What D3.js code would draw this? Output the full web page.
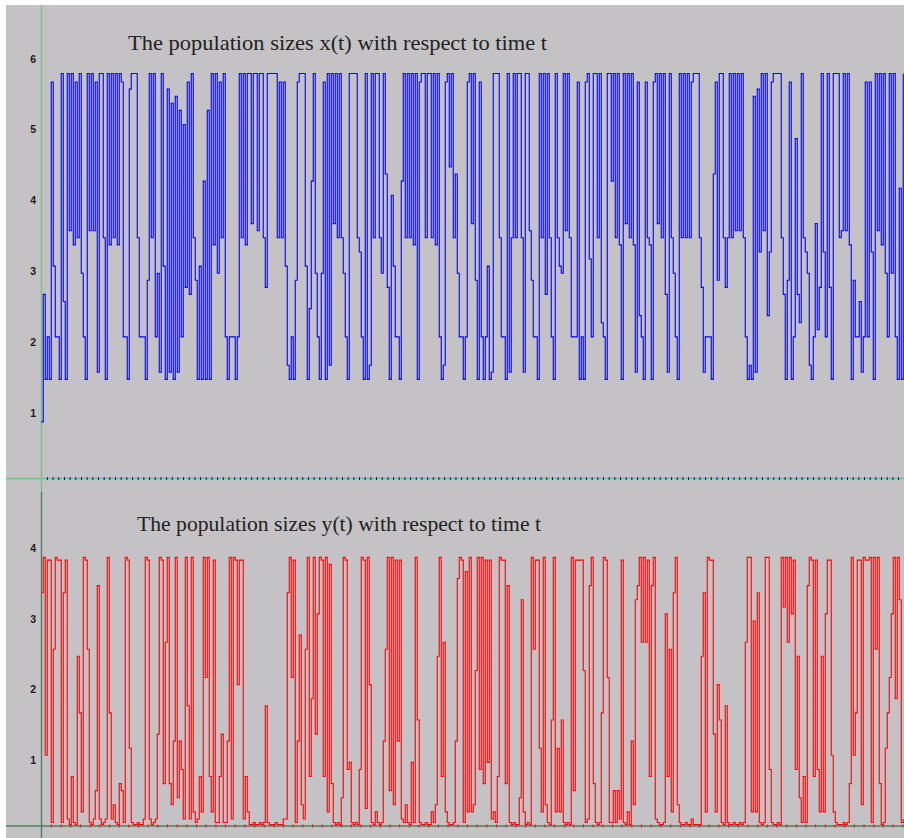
<!DOCTYPE html>
<html>
<head>
<meta charset="utf-8">
<script src="https://cdn.jsdelivr.net/npm/d3@7"></script>
<style>
  html, body { margin: 0; padding: 0; background: #ffffff; }
  svg { display: block; }
</style>
</head>
<body>
<svg id="chart" width="904" height="838"></svg>
<script>
// Sampling interval of the simulated path (time units per sample)
const DT = 0.35;

// Prey population x(t), one value per time step
const xValues = [
  0.8, 2.6, 1.4, 2.0, 1.4,   5.6, 3.0, 2.0, 2.0, 1.4,   5.72, 2.5, 1.4, 5.72, 3.5,
  5.72, 3.3, 5.6, 3.4, 5.72,  2.9, 2.0, 1.4, 5.72, 3.5,   5.72, 3.5, 5.6, 1.5, 5.72,
  5.72, 3.4, 1.4, 5.72, 3.3,  5.72, 3.4, 5.72, 3.3, 5.72, 5.6, 2.0, 2.0, 1.4, 5.5,
  5.72, 5.72, 5.72, 3.4, 2.0, 2.0, 2.0, 1.4, 2.8, 5.72,   3.4, 5.72, 2.0, 2.9, 1.5,
  5.72, 3.0, 1.4, 5.5, 1.5,   5.3, 1.4, 5.4, 1.5, 5.2,    2.0, 5.0, 2.7, 5.6, 2.6,
  5.72, 3.4, 2.8, 1.4, 3.0,   1.4, 4.2, 1.4, 5.2, 1.4,    5.72, 3.3, 5.72, 2.9, 5.6,
  3.4, 5.72, 2.0, 1.4, 2.0,   2.0, 2.0, 1.4, 2.0, 5.72,   3.4, 5.72, 3.3, 5.72, 5.72,
  3.6, 5.72, 5.72, 3.5, 5.72, 5.72, 3.4, 2.7, 5.72, 5.72, 5.72, 5.72, 5.72, 3.4, 5.6,
  3.4, 5.6, 3.0, 1.6, 1.4,    2.0, 1.4, 2.8, 5.6, 5.72,   5.72, 5.72, 3.0, 1.4, 2.4,
  4.2, 5.72, 2.9, 2.0, 1.4,   2.9, 5.6, 1.4, 5.72, 1.6,   5.72, 3.6, 5.72, 3.4, 5.72,
  3.4, 2.9, 2.0, 1.4, 5.72,   5.72, 5.72, 5.72, 3.4, 3.2, 2.0, 1.4, 5.72, 1.4, 1.6,
  5.72, 3.4, 5.72, 5.72, 3.4, 2.9, 5.72, 4.3, 2.7, 1.4,   4.0, 3.0, 2.0, 2.0, 1.4,
  4.2, 5.72, 3.4, 5.72, 3.4,  5.72, 3.3, 5.72, 1.4, 5.6,  5.72, 5.72, 3.4, 5.72, 5.72,
  3.4, 5.72, 3.3, 5.72, 2.0,  1.4, 1.6, 5.6, 5.72, 4.4,   5.72, 3.4, 4.3, 2.9, 2.0,
  2.0, 1.4, 2.0, 5.6, 5.72,   3.6, 5.72, 2.8, 1.4, 5.6,   2.0, 1.4, 2.0, 3.0, 1.4,
  1.5, 5.72, 5.72, 5.72, 3.4, 2.0, 2.0, 1.4, 5.72, 1.5,   3.4, 5.72, 3.4, 5.72, 5.72,
  3.4, 1.5, 5.72, 5.72, 3.5,  2.8, 2.0, 2.0, 1.4, 5.72,   3.4, 5.72, 2.6, 5.72, 3.4,
  2.0, 1.4, 5.72, 3.4, 3.0,   2.9, 5.72, 3.5, 5.72, 3.4,  2.0, 2.0, 2.0, 5.6, 1.4,
  2.0, 1.4, 5.6, 5.72, 3.1,   2.0, 5.72, 5.72, 3.4, 5.72, 2.2, 2.0, 1.4, 5.72, 5.72,
  4.2, 5.72, 3.4, 5.72, 3.3,  1.4, 5.72, 3.6, 5.72, 3.4,  5.72, 3.3, 1.5, 5.6, 2.3,
  2.0, 1.4, 5.6, 3.4, 3.3,    1.4, 5.6, 5.72, 3.6, 5.72,  3.4, 5.72, 2.6, 1.5, 5.72,
  3.4, 2.9, 2.0, 1.4, 5.72,   3.4, 5.72, 3.4, 5.72, 3.4,  5.6, 5.72, 5.72, 5.72, 3.4,
  2.7, 1.5, 2.0, 2.0, 2.0,    1.4, 4.3, 5.6, 2.8, 5.72,   5.72, 3.4, 2.7, 3.4, 5.72,
  3.4, 5.72, 3.5, 5.72, 3.5,  5.72, 3.4, 2.0, 1.4, 1.6,   1.4, 5.4, 1.5, 5.5, 3.2,
  5.72, 3.5, 5.72, 2.3, 3.2,  5.6, 5.72, 5.72, 5.72, 5.72, 3.4, 2.6, 1.4, 2.8, 5.6,
  1.4, 2.0, 4.8, 2.6, 2.2,    5.72, 3.4, 3.2, 2.9, 1.6,   1.4, 2.0, 3.6, 2.1, 2.7,
  5.72, 3.2, 2.0, 5.72, 2.7,  1.4, 5.72, 5.72, 5.72, 3.4, 3.5, 5.72, 3.5, 5.72, 3.3,
  1.4, 2.8, 2.0, 2.0, 2.5,    1.5, 2.0, 5.6, 2.0, 5.6,    3.2, 1.4, 5.72, 3.5, 5.72,
  3.3, 5.72, 2.9, 2.0, 5.72,  2.9, 5.72, 2.0, 1.4, 4.1,   1.4, 5.72
];

// Predator population y(t), same time steps
const yValues = [
  3.3, 3.8, 1.0, 3.76, 3.76,  0.05, 2.5, 3.8, 3.76, 3.76, 0.05, 3.3, 3.76, 0.1, 0.02,
  0.7, 0.05, 0.02, 2.4, 1.6,  0.2, 3.8, 3.76, 2.5, 0.05,  0.02, 0.1, 0.5, 3.4, 0.1,
  0.02, 0.05, 0.1, 3.8, 1.6,  0.1, 0.3, 0.05, 0.02, 0.6,  0.5, 0.05, 3.8, 3.76, 1.1,
  0.05, 0.02, 0.02, 0.05, 0.02, 0.02, 0.1, 3.8, 3.76, 0.1, 0.02, 0.05, 0.1, 1.3, 3.8,
  3.76, 0.6, 2.6, 3.8, 0.6,   0.3, 1.2, 3.8, 0.4, 1.2,    0.8, 0.1, 3.8, 1.7, 0.1,
  3.8, 0.2, 0.05, 0.1, 0.7,   0.2, 3.8, 2.1, 3.8, 0.7,    0.2, 3.76, 0.05, 0.05, 0.7,
  1.3, 0.05, 0.05, 1.2, 3.8,  0.1, 3.8, 3.76, 2.0, 3.76,  3.76, 0.1, 0.7, 0.2, 0.02,
  0.02, 0.05, 0.02, 0.02, 0.05, 0.02, 0.05, 1.7, 0.05, 0.02, 0.02, 0.02, 0.05, 0.02, 0.02,
  0.02, 0.1, 0.1, 3.3, 3.8,   2.1, 3.76, 0.05, 1.2, 2.7,  0.3, 0.1, 2.5, 3.8, 0.7,
  1.8, 3.8, 1.3, 3.0, 3.8,    3.76, 0.7, 3.8, 0.2, 3.7,   0.6, 0.05, 0.02, 0.05, 0.02,
  0.4, 3.8, 3.76, 0.8, 0.9,   0.05, 0.02, 0.05, 0.02, 0.8, 3.8, 3.76, 0.25, 3.8, 2.0,
  0.05, 0.02, 0.2, 0.05, 0.02, 0.05, 1.2, 2.5, 3.8, 0.5,  3.8, 0.3, 3.76, 1.2, 3.76,
  0.1, 0.05, 0.3, 0.05, 0.02, 0.9, 0.05, 3.8, 1.5, 0.05,  0.02, 0.02, 0.05, 0.02, 0.02,
  0.2, 0.05, 0.3, 2.4, 3.8,   0.7, 2.6, 0.2, 0.05, 0.02,  0.02, 0.05, 1.2, 3.5, 3.8,
  3.76, 0.05, 3.6, 0.2, 3.8,  0.2, 0.3, 2.2, 3.8, 0.8,    3.8, 0.6, 3.76, 0.9, 3.76,
  0.1, 0.2, 0.05, 0.7, 3.8,   3.76, 3.76, 0.6, 3.4, 0.05, 0.02, 0.05, 0.02, 0.02, 0.4,
  3.2, 0.2, 0.02, 0.05, 0.02, 3.8, 2.5, 3.76, 3.76, 1.1,  0.2, 3.8, 0.3, 0.05, 0.02,
  1.5, 3.8, 0.2, 1.1, 0.2,    1.5, 0.05, 0.02, 0.05, 0.02, 3.8, 0.5, 3.76, 3.76, 3.76,
  3.76, 2.2, 0.05, 0.1, 3.4,  3.8, 0.6, 0.05, 0.02, 0.05, 1.6, 3.8, 3.76, 2.1, 0.05,
  0.05, 0.5, 0.05, 0.5, 0.1,  3.76, 0.05, 0.02, 0.2, 0.02, 1.2, 0.3, 3.2, 3.4, 3.8,
  2.6, 3.8, 2.6, 3.76, 0.7,   3.4, 3.8, 0.1, 0.05, 0.02,  0.02, 0.05, 3.0, 0.7, 2.5,
  0.2, 3.3, 3.8, 0.3, 0.05,   0.02, 0.02, 0.05, 0.02, 0.02, 0.1, 0.02, 0.02, 0.02, 0.02,
  2.4, 3.3, 0.2, 3.8, 3.76,   3.76, 1.3, 0.2, 2.0, 1.5,   0.05, 0.02, 1.7, 0.05, 0.02,
  0.02, 0.05, 0.02, 0.02, 0.05, 0.02, 0.05, 2.6, 3.8, 3.8, 0.2, 2.9, 0.2, 3.3, 0.05,
  0.02, 0.05, 3.8, 3.8, 0.8,  0.05, 0.02, 0.02, 0.05, 0.02, 3.8, 3.1, 3.8, 2.6, 3.8,
  3.0, 3.76, 0.8, 2.4, 0.4,   0.05, 0.7, 0.05, 3.4, 3.8,  3.76, 0.7, 3.76, 0.8, 0.2,
  2.4, 0.2, 3.0, 3.76, 3.76,  1.0, 0.2, 0.05, 0.02, 0.02, 0.02, 0.05, 0.02, 0.05, 0.6,
  3.8, 1.0, 1.6, 3.76, 3.76,  0.3, 3.8, 3.76, 3.76, 3.8,  0.05, 3.8, 2.5, 3.8, 0.6,
  0.02, 0.05, 1.1, 1.6, 2.1,  3.0, 3.8, 1.8, 3.8, 3.2,    0.05, 0.1
];

// Value-axis tick labels for each panel
const xTickLabels = [1, 2, 3, 4, 5, 6];
const yTickLabels = [1, 2, 3, 4];

// Spacing of the small marks along the time axis of each panel
const xTimeTickStep = 0.993;
const yTimeTickStep = 1.693;

const titleX = "The population sizes x(t) with respect to time t";
const titleY = "The population sizes y(t) with respect to time t";

const W = 904, H = 838;
const svg = d3.select("#chart");

const BG = "#c4c2c5";
svg.append("rect").attr("x", 6).attr("y", 5).attr("width", W - 6).attr("height", H - 5).attr("fill", BG);

const tEnd = (xValues.length - 1) * DT;
const t = d3.scaleLinear().domain([0, tEnd]).range([41.25, 903.25]);

function panel(opts) {
  const g = svg.append("g");
  const y = d3.scaleLinear().domain(opts.domain).range(opts.range);
  const y0 = y(0);

  // axis lines
  g.append("line").attr("x1", 6).attr("x2", W).attr("y1", y0).attr("y2", y0)
    .attr("stroke", opts.axisColor).attr("stroke-width", 1.6);
  g.append("line").attr("x1", 41.5).attr("x2", 41.5).attr("y1", opts.vTop).attr("y2", opts.vBottom)
    .attr("stroke", opts.axisColor).attr("stroke-width", 1.4);

  // small time marks along the horizontal axis
  const marks = d3.range(opts.tickStep, tEnd + 0.001, opts.tickStep);
  const ax = d3.axisBottom(t).tickValues(marks).tickSize(3).tickFormat("");
  const axG = g.append("g").attr("transform", `translate(0,${y0 - 1.5})`).call(ax);
  axG.select(".domain").remove();
  axG.selectAll(".tick line").attr("stroke", opts.color).attr("stroke-width", 1);

  // value labels on the left
  const ay = d3.axisLeft(y).tickValues(opts.labels).tickSize(0).tickPadding(5).tickFormat(d3.format("d"));
  const ayG = g.append("g").attr("transform", "translate(41,0)").call(ay);
  ayG.select(".domain").remove();
  ayG.selectAll(".tick text")
    .attr("dy", "0.32em")
    .attr("y", 5)
    .attr("fill", "#1a1a1a")
    .style("font-family", "'Liberation Sans', Arial, sans-serif")
    .style("font-size", "10.5px")
    .style("font-weight", "bold");

  // the series, drawn as a step path so jumps stay vertical
  const line = d3.line().curve(d3.curveStepAfter).x((d, i) => t(i * DT)).y(d => y(d));
  g.append("path").datum(opts.values)
    .attr("fill", "none")
    .attr("stroke", opts.color)
    .attr("stroke-width", 1.1)
    .attr("d", line);

  // title
  g.append("text")
    .attr("x", opts.titlePos[0]).attr("y", opts.titlePos[1])
    .attr("textLength", opts.titleLen).attr("lengthAdjust", "spacingAndGlyphs")
    .style("font-family", "'Liberation Serif', 'Times New Roman', serif")
    .style("font-size", "21px")
    .attr("fill", "#222")
    .text(opts.title);
}

panel({
  values: xValues, domain: [0, 6], range: [478.5, 53.7],
  labels: xTickLabels, color: "#0000ff", axisColor: "#74c47e",
  tickStep: xTimeTickStep, vTop: 5, vBottom: 492,
  title: titleX, titlePos: [128, 50], titleLen: 419
});

panel({
  values: yValues, domain: [0, 4], range: [826, 543.2],
  labels: yTickLabels, color: "#ff0000", axisColor: "#4f7f5c",
  tickStep: yTimeTickStep, vTop: 492, vBottom: H,
  title: titleY, titlePos: [137, 530.5], titleLen: 404
});
</script>
</body>
</html>
